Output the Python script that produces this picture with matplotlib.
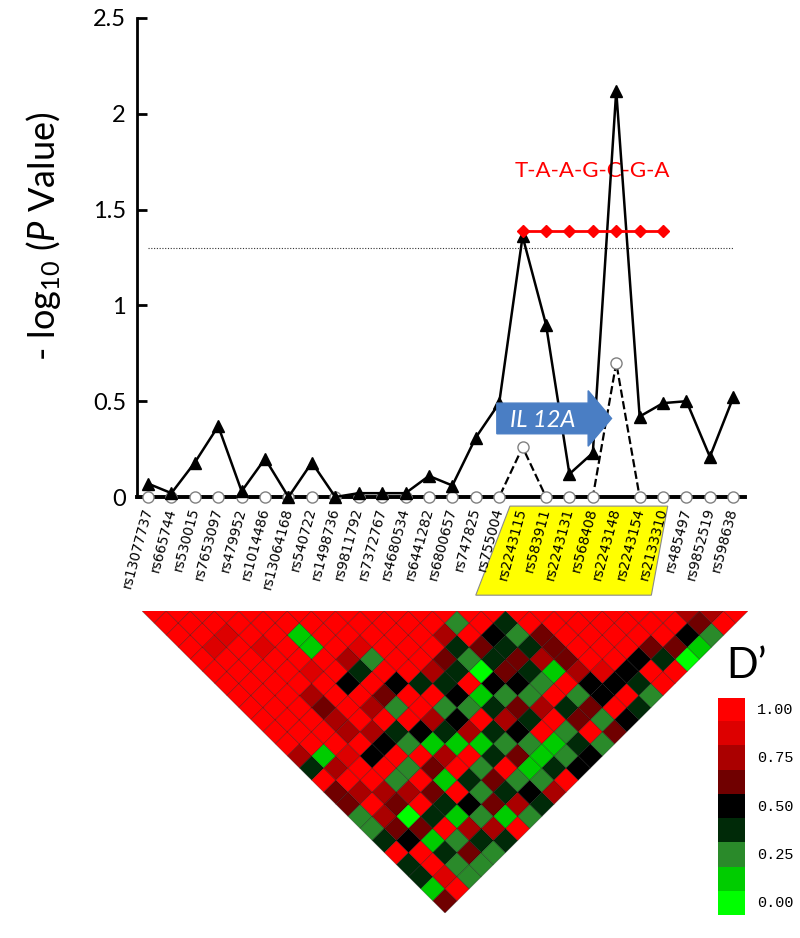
import numpy as np
import matplotlib
matplotlib.use("Agg")
import matplotlib.pyplot as plt
import matplotlib.transforms as mtransforms
from matplotlib.colors import ListedColormap
from matplotlib.collections import PolyCollection
from matplotlib.patches import Polygon, FancyArrow

plt.rcParams['font.family'] = ['Lato', 'DejaVu Sans']
plt.rcParams['mathtext.fontset'] = 'custom'
plt.rcParams['mathtext.rm'] = 'Lato'
plt.rcParams['mathtext.it'] = 'Lato:italic'

# SNPs along the region
snps = ["rs13077737", "rs665744", "rs530015", "rs7653097", "rs479952",
        "rs1014486", "rs13064168", "rs540722", "rs1498736", "rs9811792",
        "rs7372767", "rs4680534", "rs6441282", "rs6800657", "rs747825",
        "rs755004", "rs2243115", "rs583911", "rs2243131", "rs568408",
        "rs2243148", "rs2243154", "rs2133310", "rs485497", "rs9852519",
        "rs598638"]

# -log10 P, single marker (triangles) and second test (circles)
single_p = [0.07, 0.02, 0.18, 0.37, 0.03, 0.20, 0.00, 0.18, 0.00, 0.02,
            0.02, 0.02, 0.11, 0.06, 0.31, 0.49, 1.36, 0.90, 0.12, 0.23,
            2.12, 0.42, 0.49, 0.50, 0.21, 0.52]
circle_p = [0, 0, 0, 0, 0, 0, 0, 0, 0, 0,
            0, 0, 0, 0, 0, 0, 0.26, 0, 0, 0,
            0.70, 0, 0, 0, 0, 0]

# haplotype
hap_snps = ["rs2243115", "rs583911", "rs2243131", "rs568408",
            "rs2243148", "rs2243154", "rs2133310"]
hap_value = 1.39
hap_label = "T-A-A-G-C-G-A"
threshold = 1.3

# gene arrow (in SNP index units)
gene_name = "IL 12A"
gene_start = 14.9
gene_end = 19.8

# D' between SNP i and SNP j>i, one string per i, digit k -> D' = k/8
dprime_rows = [
    "8888888888886385522383315",
    "888788888888168686548878",
    "88788888888878865051322",
    "8887888656684826838252",
    "888887888864828531632",
    "88118848683285184263",
    "8888638528416832518",
    "888728488631825362",
    "88888838246138243",
    "8888863428325126",
    "888853813642138",
    "88632042538124",
    "8285354268234",
    "884353283582",
    "83236182525",
    "8855564484",
    "888887483",
    "88888432",
    "8888488",
    "888538",
    "88850",
    "8841",
    "652",
    "68",
    "8",
]

level_colors = ["#00FF00", "#00CC00", "#2A8A2A", "#002A08", "#000000",
                "#700000", "#AA0000", "#DD0000", "#FF0000"]
cbar_labels = ["1.00", "0.75", "0.50", "0.25", "0.00"]

n = len(snps)
x = np.arange(n)

fig = plt.figure(figsize=(8, 9.38), dpi=100)

# ---- association plot ----
ax = fig.add_axes([137/800, 1-497/938, 608/800, 479/938])
ax.set_xlim(-0.47, n - 0.5)
ax.set_ylim(0, 2.5)

trans = mtransforms.blended_transform_factory(ax.transData, ax.transAxes)
box = Polygon([(15.46, -0.019), (22.2, -0.019), (21.5, -0.205), (14.0, -0.205)],
              closed=True, transform=trans, clip_on=False,
              facecolor="#FFFF00", edgecolor="#8a8a8a", lw=0.8, zorder=0.5)
ax.add_patch(box)

ax.hlines(threshold, 0, n - 1, colors="#333333", linestyles=(0, (1, 1.5)), lw=0.8)

ax.plot(x, circle_p, ls="--", color="black", lw=1.6, marker="o", ms=8,
        mfc="white", mec="#808080", mew=1, clip_on=False, zorder=3)
ax.plot(x, single_p, ls="-", color="black", lw=1.8, marker="^", ms=9,
        clip_on=False, zorder=4)

hx = [snps.index(s) for s in hap_snps]
ax.plot(hx, [hap_value] * len(hx), color="red", lw=2, marker="D", ms=6, zorder=5)
ax.text(np.mean(hx), 1.70, hap_label, color="red", fontsize=16,
        ha="center", va="center")

gene_y = 0.41
arrow = FancyArrow(gene_start, gene_y, gene_end - gene_start, 0, width=0.16,
                   head_width=0.29, head_length=1.0, length_includes_head=True,
                   color="#4A7EC4", zorder=6)
ax.add_patch(arrow)
ax.text((gene_start + gene_end - 1.0) / 2, gene_y - 0.01, gene_name, color="white",
        fontsize=17, style="italic", ha="center", va="center", zorder=7)

ax.spines["top"].set_visible(False)
ax.spines["right"].set_visible(False)
ax.spines["left"].set_linewidth(2)
ax.spines["bottom"].set_linewidth(2.8)
ax.set_yticks([0, 0.5, 1, 1.5, 2, 2.5])
ax.set_yticklabels(["0", "0.5", "1", "1.5", "2", "2.5"])
ax.tick_params(axis="y", direction="in", length=7, width=2, labelsize=17, pad=8)
ax.set_xticks(x)
ax.set_xticklabels(snps, rotation=75, ha="right", va="center",
                   rotation_mode="anchor", fontsize=10, family="DejaVu Sans")
ax.tick_params(axis="x", length=0, pad=8)
fig.text(44/800, 1-236/938, r"- log$_{10}$ ($\it{P}$ Value)", rotation=90,
         fontsize=26, ha="center", va="center")

# ---- LD triangle ----
cmap = ListedColormap(level_colors)
verts, cols = [], []
for i, row in enumerate(dprime_rows):
    for k, ch in enumerate(row):
        j = i + 1 + k
        cx, cy = (i + j) / 2, -(j - i) / 2
        verts.append([(cx - 0.5, cy), (cx, cy + 0.5), (cx + 0.5, cy), (cx, cy - 0.5)])
        cols.append(level_colors[int(ch)])

hax = fig.add_axes([142/800, 1-913/938, 606/800, 302/938])
pc = PolyCollection(verts, facecolors=cols, edgecolors=(0, 0, 0, 0.3), linewidths=0.6)
hax.add_collection(pc)
hax.set_xlim(0, n - 1)
hax.set_ylim(-(n - 1) / 2 - 0.5, -0.5)
hax.axis("off")

# ---- colour key ----
cax = fig.add_axes([718/800, 1-915/938, 27/800, 217/938])
cax.imshow(np.arange(9)[::-1, None], cmap=cmap, aspect="auto", extent=[0, 1, 0, 9])
cax.set_xlim(0, 1)
cax.set_ylim(0, 9)
cax.axis("off")
for k, lab in enumerate(cbar_labels):
    cax.text(1.45, 8.5 - 2 * k, lab, va="center", ha="left", fontsize=11,
             family="Liberation Mono", clip_on=False)
fig.text(746/800, 1-666/938, "D\u2019", fontsize=30, ha="center", va="center")

fig.savefig("out.png", dpi=100)
